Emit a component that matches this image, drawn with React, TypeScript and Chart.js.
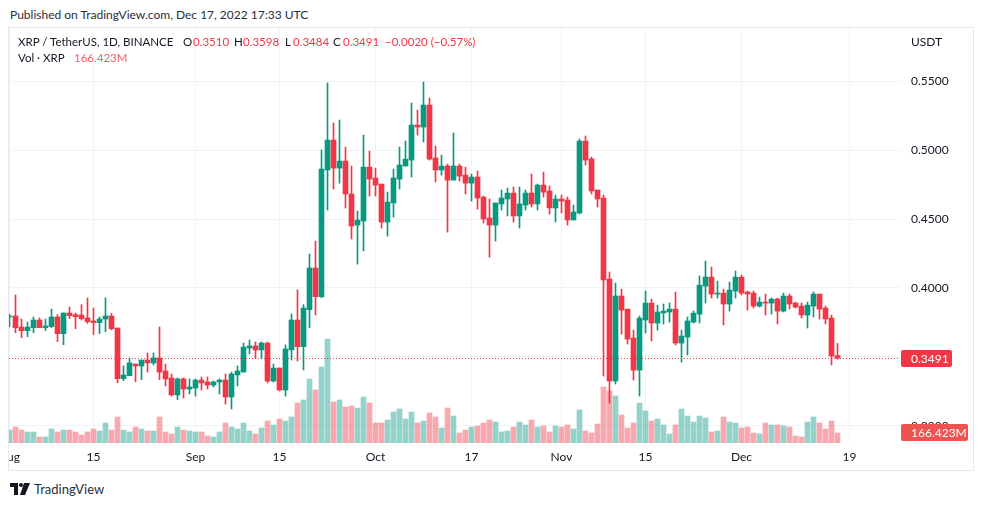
import { useEffect, useRef } from "react";
import { Chart, registerables } from "chart.js";

Chart.register(...registerables);

// Daily candles, Aug 1 2022 .. Dec 17 2022 (index 0 = Aug 1)
const opens = [
  0.3790, 0.3797, 0.3717, 0.3691, 0.3713, 0.3768, 0.3713, 0.3720, 0.3790, 0.3669,
  0.3819, 0.3807, 0.3804, 0.3783, 0.3761, 0.3749, 0.3775, 0.3797, 0.3710, 0.3343,
  0.3365, 0.3449, 0.3435, 0.3478, 0.3457, 0.3493, 0.3399, 0.3348, 0.3225, 0.3341, 0.3268,
  0.3275, 0.3333, 0.3319, 0.3297, 0.3319, 0.3333, 0.3210, 0.3370, 0.3391, 0.3565,
  0.3580, 0.3551, 0.3601, 0.3326, 0.3420, 0.3261, 0.3551, 0.3768, 0.3575, 0.3843,
  0.4145, 0.3937, 0.4855, 0.5072, 0.4869, 0.4920, 0.4681, 0.4456, 0.4485, 0.4876,
  0.4797, 0.4753, 0.4478, 0.4616, 0.4789, 0.4884, 0.4927, 0.5181, 0.5166, 0.5326,
  0.4942, 0.4855, 0.4884, 0.4782, 0.4884, 0.4818, 0.4760, 0.4804, 0.4659, 0.4507,
  0.4456, 0.4609, 0.4645, 0.4688, 0.4522, 0.4601, 0.4688, 0.4609, 0.4746, 0.4703, 0.4580,
  0.4645, 0.4638, 0.4493, 0.4543, 0.5065, 0.4935, 0.4710, 0.4652, 0.4065, 0.3326,
  0.3942, 0.3847, 0.3637, 0.3405, 0.3768, 0.3891, 0.3746, 0.3819, 0.3826, 0.3847,
  0.3601, 0.3645, 0.3753, 0.3811, 0.4014, 0.4079, 0.3956, 0.3963, 0.3884, 0.3978,
  0.4079, 0.3971, 0.3963, 0.3869, 0.3898, 0.3891, 0.3920, 0.3833, 0.3942, 0.3891,
  0.3869, 0.3804, 0.3869, 0.3956, 0.3855, 0.3782, 0.3510,
];
const highs = [
  0.3810, 0.3949, 0.3775, 0.3754, 0.3790, 0.3783, 0.3775, 0.3848, 0.3807, 0.3819,
  0.3862, 0.3819, 0.3879, 0.3928, 0.3855, 0.3790, 0.3928, 0.3816, 0.3710, 0.3435,
  0.3493, 0.3449, 0.3478, 0.3529, 0.3529, 0.3717, 0.3449, 0.3377, 0.3348, 0.3348, 0.3341,
  0.3341, 0.3355, 0.3355, 0.3326, 0.3341, 0.3377, 0.3391, 0.3435, 0.3601, 0.3623,
  0.3609, 0.3609, 0.3609, 0.3449, 0.3420, 0.3587, 0.3812, 0.3986, 0.3880, 0.4246,
  0.4340, 0.5000, 0.5486, 0.5195, 0.5217, 0.5021, 0.4884, 0.4558, 0.5108, 0.4992,
  0.4869, 0.4753, 0.4695, 0.4862, 0.5021, 0.5065, 0.5340, 0.5289, 0.5492, 0.5376,
  0.5029, 0.4963, 0.4898, 0.5123, 0.4898, 0.4876, 0.4826, 0.4847, 0.4666, 0.4645,
  0.4616, 0.4710, 0.4724, 0.4732, 0.4732, 0.4710, 0.4826, 0.4753, 0.4840, 0.4739, 0.4674,
  0.4674, 0.4659, 0.4601, 0.5080, 0.5101, 0.4949, 0.4710, 0.4674, 0.4116, 0.4036,
  0.3992, 0.3847, 0.3695, 0.3797, 0.3978, 0.3920, 0.3876, 0.3884, 0.3891, 0.3971,
  0.3695, 0.3790, 0.3833, 0.4087, 0.4195, 0.4152, 0.4050, 0.3992, 0.4043, 0.4123,
  0.4094, 0.3978, 0.3978, 0.3934, 0.3956, 0.3927, 0.3927, 0.3963, 0.3956, 0.3898,
  0.3891, 0.3898, 0.3971, 0.3956, 0.3869, 0.3804, 0.3598,
];
const lows = [
  0.3720, 0.3676, 0.3640, 0.3647, 0.3676, 0.3713, 0.3691, 0.3713, 0.3611, 0.3589,
  0.3778, 0.3705, 0.3768, 0.3742, 0.3662, 0.3669, 0.3684, 0.3696, 0.3314, 0.3329,
  0.3365, 0.3321, 0.3336, 0.3391, 0.3442, 0.3336, 0.3290, 0.3217, 0.3191, 0.3203, 0.3232,
  0.3217, 0.3261, 0.3268, 0.3283, 0.3232, 0.3159, 0.3123, 0.3290, 0.3391, 0.3522,
  0.3493, 0.3486, 0.3312, 0.3319, 0.3254, 0.3217, 0.3478, 0.3471, 0.3406, 0.3712,
  0.3804, 0.3930, 0.4565, 0.4717, 0.4760, 0.4579, 0.4355, 0.4173, 0.4268, 0.4666,
  0.4666, 0.4434, 0.4376, 0.4514, 0.4717, 0.4884, 0.4804, 0.5108, 0.5058, 0.4927,
  0.4768, 0.4818, 0.4405, 0.4782, 0.4775, 0.4681, 0.4630, 0.4572, 0.4471, 0.4224,
  0.4340, 0.4565, 0.4522, 0.4478, 0.4435, 0.4565, 0.4587, 0.4565, 0.4659, 0.4536, 0.4478,
  0.4543, 0.4456, 0.4493, 0.4536, 0.4891, 0.4681, 0.4587, 0.3362, 0.3166, 0.3304,
  0.3666, 0.3594, 0.3333, 0.3217, 0.3674, 0.3616, 0.3695, 0.3739, 0.3753, 0.3587,
  0.3463, 0.3514, 0.3746, 0.3746, 0.3891, 0.3927, 0.3927, 0.3732, 0.3833, 0.3927,
  0.3949, 0.3840, 0.3855, 0.3862, 0.3804, 0.3811, 0.3739, 0.3826, 0.3847, 0.3855,
  0.3782, 0.3710, 0.3790, 0.3775, 0.3739, 0.3442, 0.3484,
];
const closes = [
  0.3797, 0.3712, 0.3691, 0.3717, 0.3768, 0.3713, 0.3725, 0.3790, 0.3669, 0.3819,
  0.3800, 0.3792, 0.3778, 0.3756, 0.3749, 0.3775, 0.3797, 0.3705, 0.3343, 0.3370,
  0.3457, 0.3435, 0.3478, 0.3457, 0.3493, 0.3391, 0.3341, 0.3225, 0.3341, 0.3268, 0.3283,
  0.3333, 0.3312, 0.3297, 0.3319, 0.3333, 0.3210, 0.3377, 0.3399, 0.3572, 0.3580,
  0.3551, 0.3601, 0.3326, 0.3420, 0.3261, 0.3558, 0.3768, 0.3575, 0.3855, 0.4145,
  0.3937, 0.4862, 0.5072, 0.4869, 0.4920, 0.4681, 0.4449, 0.4492, 0.4876, 0.4789,
  0.4746, 0.4478, 0.4623, 0.4797, 0.4891, 0.4934, 0.5181, 0.5166, 0.5326, 0.4934,
  0.4855, 0.4884, 0.4782, 0.4884, 0.4811, 0.4760, 0.4804, 0.4652, 0.4500, 0.4456,
  0.4616, 0.4652, 0.4688, 0.4522, 0.4609, 0.4688, 0.4609, 0.4746, 0.4695, 0.4580, 0.4645,
  0.4630, 0.4493, 0.4551, 0.5065, 0.4927, 0.4703, 0.4645, 0.4058, 0.3326, 0.3942,
  0.3840, 0.3630, 0.3405, 0.3782, 0.3891, 0.3746, 0.3826, 0.3833, 0.3847, 0.3601,
  0.3652, 0.3761, 0.3818, 0.4021, 0.4079, 0.3956, 0.3963, 0.3884, 0.3985, 0.4079,
  0.3963, 0.3956, 0.3869, 0.3898, 0.3891, 0.3920, 0.3833, 0.3942, 0.3884, 0.3862,
  0.3804, 0.3876, 0.3956, 0.3847, 0.3775, 0.3507, 0.3491,
];
// Volume in millions of XRP
const volumes = [
  216, 266, 216, 183, 183, 100, 100, 233, 183, 216, 216, 183, 133, 183, 233, 200,
  333, 216, 433, 216, 183, 266, 233, 200, 200, 433, 183, 150, 266, 216, 200,
  183, 183, 116, 100, 183, 333, 266, 233, 333, 200, 150, 250, 366, 300, 399,
  366, 433, 666, 716, 1065, 882, 1265, 1731, 682, 716, 599, 616, 582, 765, 666,
  333, 333, 383, 516, 566, 399, 516, 333, 366, 499, 433, 250, 582, 449, 166, 216,
  266, 283, 333, 383, 349, 183, 200, 266, 349, 300, 383, 266, 283, 183, 283,
  266, 300, 233, 549, 200, 166, 316, 932, 865, 782, 466, 250, 333, 666, 532,
  366, 399, 300, 150, 300, 566, 449, 349, 449, 416, 183, 200, 433, 349, 333,
  250, 266, 166, 150, 333, 300, 300, 283, 266, 116, 100, 349, 433, 333, 233, 366, 166.423,
];

const timeTickDays = [0, 14, 31, 45, 61, 77, 92, 106, 122, 140];
const timeTickLabels = ["Aug", "15", "Sep", "15", "Oct", "17", "Nov", "15", "Dec", "19"];
const priceTicks = [0.3, 0.35, 0.4, 0.45, 0.5, 0.55];

const LAST_PRICE = 0.3491;
const LAST_VOL_LABEL = "166.423M";

const UP = "#089981";
const DOWN = "#f23645";
const UP_VOL = "rgba(8,153,129,0.43)";
const DOWN_VOL = "rgba(242,54,69,0.43)";
const GRID = "#f0f3fa";
const TEXT = "#131722";
const FONT = "Lato, 'Open Sans', sans-serif";

const noPad = (s: any) => {
  s.paddingLeft = 0;
  s.paddingRight = 0;
  s.paddingTop = 0;
  s.paddingBottom = 0;
};

export default function App() {
  const ref = useRef<HTMLCanvasElement>(null);

  useEffect(() => {
    const canvas = ref.current;
    if (!canvas) return;
    const days = closes.map((_, i) => i);
    const up = closes.map((c, i) => c >= opens[i]);

    const overlay = {
      id: "overlay",
      afterDatasetsDraw(chart: any) {
        const { ctx, chartArea, scales } = chart;
        const y = Math.round(scales.y.getPixelForValue(LAST_PRICE)) + 0.5;
        ctx.save();
        ctx.beginPath();
        ctx.rect(chartArea.left, chartArea.top, chartArea.right - chartArea.left, chartArea.bottom - chartArea.top);
        ctx.clip();
        ctx.strokeStyle = DOWN;
        ctx.lineWidth = 1;
        ctx.setLineDash([1, 2]);
        ctx.beginPath();
        ctx.moveTo(chartArea.left, y);
        ctx.lineTo(chartArea.right, y);
        ctx.stroke();
        ctx.restore();
      },
      afterDraw(chart: any) {
        const { ctx, chartArea, scales } = chart;
        const drawBox = (cy: number, w: number, color: string, text: string) => {
          const x = chartArea.right + 1;
          const h = 17;
          const top = Math.round(cy - h / 2);
          ctx.save();
          ctx.fillStyle = color;
          ctx.beginPath();
          if ((ctx as any).roundRect) (ctx as any).roundRect(x, top, w, h, 2);
          else ctx.rect(x, top, w, h);
          ctx.fill();
          ctx.fillStyle = "#ffffff";
          ctx.font = `12px ${FONT}`;
          ctx.textAlign = "left";
          ctx.textBaseline = "middle";
          ctx.fillText(text, chartArea.right + 11, top + h / 2 + 0.5);
          ctx.restore();
        };
        drawBox(scales.y.getPixelForValue(LAST_PRICE), 51, DOWN, LAST_PRICE.toFixed(4));
        const vy = scales.yv.getPixelForValue(volumes[volumes.length - 1]);
        drawBox(vy, 67, "#ef5350", LAST_VOL_LABEL);
      },
    };

    const chart = new Chart(canvas, {
      type: "bar",
      data: {
        datasets: [
          {
            label: "body",
            data: days.map((i) => ({ x: i, y: [opens[i], closes[i]] })) as any,
            backgroundColor: up.map((u) => (u ? UP : DOWN)),
            barThickness: 5,
            minBarLength: 1,
            grouped: false,
            order: 1,
            yAxisID: "y",
          },
          {
            label: "wick",
            data: days.map((i) => ({ x: i, y: [lows[i], highs[i]] })) as any,
            backgroundColor: up.map((u) => (u ? UP : DOWN)),
            barThickness: 1,
            grouped: false,
            order: 2,
            yAxisID: "y",
          },
          {
            label: "volume",
            data: days.map((i) => ({ x: i, y: volumes[i] })) as any,
            backgroundColor: up.map((u) => (u ? UP_VOL : DOWN_VOL)),
            barThickness: 5,
            grouped: false,
            order: 3,
            yAxisID: "yv",
          },
        ],
      },
      options: {
        animation: false,
        responsive: false,
        devicePixelRatio: 1,
        layout: { padding: 0, autoPadding: false } as any,
        plugins: { legend: { display: false }, tooltip: { enabled: false } },
        scales: {
          x: {
            type: "linear",
            offset: false,
            min: -0.5 / 6,
            max: -0.5 / 6 + 891 / 6,
            position: "bottom",
            afterBuildTicks: (s: any) => {
              s.ticks = timeTickDays.map((v) => ({ value: v }));
            },
            afterFit: (s: any) => {
              s.height = 27;
              noPad(s);
            },
            ticks: {
              autoSkip: false,
              maxRotation: 0,
              padding: 7,
              color: TEXT,
              font: { family: FONT, size: 12 },
              callback: (v: any) => {
                const k = timeTickDays.indexOf(Number(v));
                return k >= 0 ? timeTickLabels[k] : "";
              },
            },
            grid: { color: GRID, drawTicks: false, lineWidth: 1, offset: false },
            border: { display: false },
          },
          y: {
            type: "linear",
            position: "right",
            min: 0.287681,
            max: 0.588406,
            afterBuildTicks: (s: any) => {
              s.ticks = priceTicks.map((v) => ({ value: v }));
            },
            afterFit: (s: any) => {
              s.width = 73;
              noPad(s);
            },
            ticks: {
              padding: 11,
              color: TEXT,
              font: { family: FONT, size: 12 },
              callback: (v: any) => Number(v).toFixed(4),
            },
            grid: { color: GRID, drawTicks: false, lineWidth: 1 },
            border: { display: false },
          },
          yv: {
            type: "linear",
            display: false,
            min: 0,
            max: 6906,
            afterFit: (s: any) => {
              s.width = 0;
              noPad(s);
            },
          },
        },
      },
      plugins: [overlay],
    });
    return () => chart.destroy();
  }, []);

  const red = "#f23645";
  const t: any = (left: number, top: number, color: string, fs = 11.5) => ({
    position: "absolute",
    left,
    top,
    color,
    fontSize: fs,
    lineHeight: "16px",
    whiteSpace: "nowrap",
  });

  return (
    <div
      style={{
        position: "fixed",
        left: 0,
        top: 0,
        width: 983,
        height: 506,
        background: "#ffffff",
        fontFamily: FONT,
        color: TEXT,
        overflow: "hidden",
      }}
    >
      <div style={t(10, 7, "#2a2e39", 12)}>Published on TradingView.com, Dec 17, 2022 17:33 UTC</div>
      <div
        style={{
          position: "absolute",
          left: 8,
          top: 27,
          width: 964,
          height: 442,
          border: "1px solid #e6e8ee",
        }}
      />
      <canvas
        ref={ref}
        width={964}
        height={442}
        style={{ position: "absolute", left: 9, top: 28, width: 964, height: 442 }}
      />
      <div style={t(18, 34, TEXT)}>XRP / TetherUS, 1D, BINANCE</div>
      <div style={t(183, 34, TEXT)}>O</div>
      <div style={t(193, 34, red)}>0.3510</div>
      <div style={t(234, 34, TEXT)}>H</div>
      <div style={t(243, 34, red)}>0.3598</div>
      <div style={t(285, 34, TEXT)}>L</div>
      <div style={t(293, 34, red)}>0.3484</div>
      <div style={t(333, 34, TEXT)}>C</div>
      <div style={t(343, 34, red)}>0.3491</div>
      <div style={t(385, 34, red)}>−0.0020 (−0.57%)</div>
      <div style={t(18, 50, TEXT)}>Vol · XRP</div>
      <div style={t(74, 50, "#f4606a")}>166.423M</div>
      <div style={t(911, 34, TEXT, 12)}>USDT</div>
      <div style={{ position: "absolute", left: 10, top: 481, display: "flex", alignItems: "center" }}>
        <svg width="20" height="12" viewBox="0 0 20 12">
          <path d="M0 0 H8 V12 H4 V4 H0 Z" fill={TEXT} />
          <circle cx="11" cy="2" r="2" fill={TEXT} />
          <path d="M14 0 H20 L15 12 H10 Z" fill={TEXT} />
        </svg>
        <span style={{ marginLeft: 4, fontSize: 13, color: "#2a2e39" }}>TradingView</span>
      </div>
    </div>
  );
}
